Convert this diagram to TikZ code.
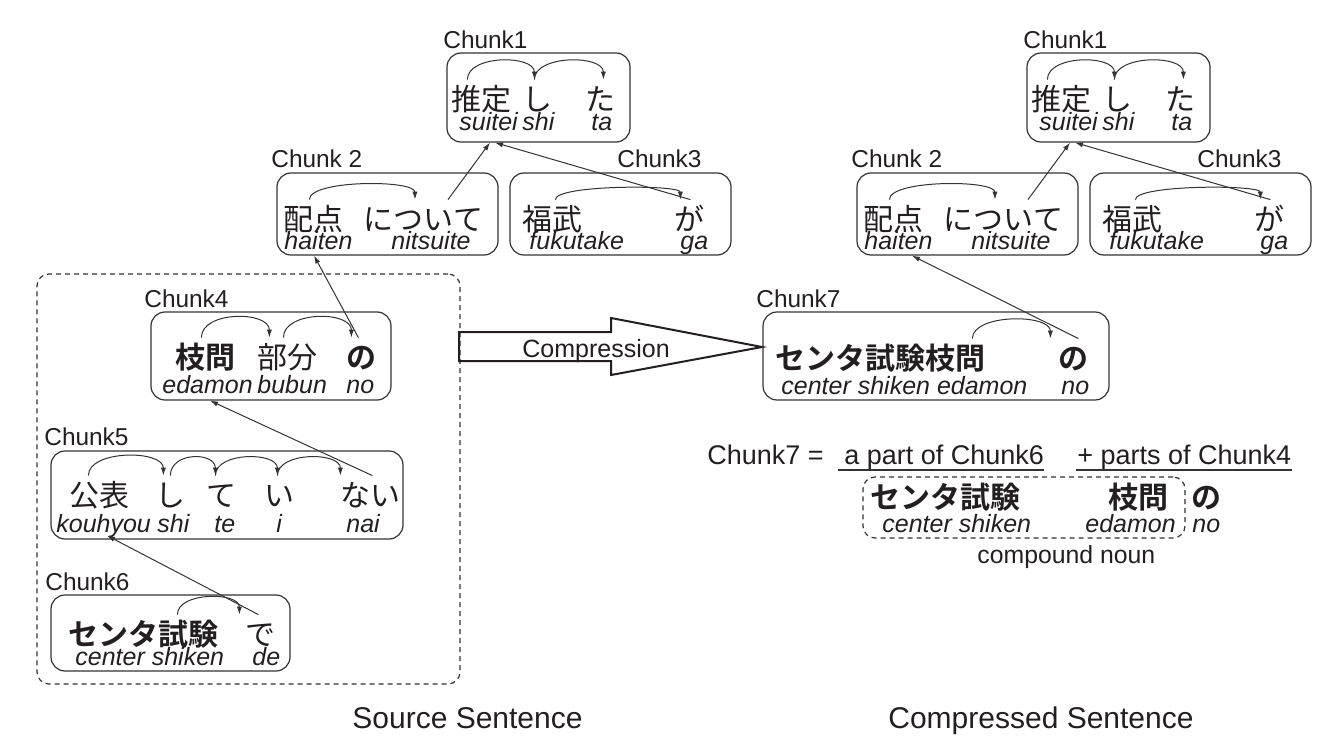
\documentclass[tikz,border=0pt]{standalone}
\usepackage{fontspec}
\newfontfamily\lat{Liberation Sans}
\newfontfamily\jp{Noto Sans CJK JP}[BoldFont={Noto Sans CJK JP Bold}]
\usetikzlibrary{arrows.meta,calc,positioning}
\definecolor{ink}{HTML}{231F20}
\definecolor{edge}{HTML}{333333}

\tikzset{
  lbl/.style={font=\lat\fontsize{12.2}{14}\selectfont, inner sep=0, anchor=base west, text=ink},
  eq/.style={font=\lat\fontsize{13.5}{16}\selectfont, inner sep=0, anchor=base west, text=ink},
  ttl/.style={font=\lat\fontsize{15}{18}\selectfont, inner sep=0, anchor=base west, text=ink},
  jw/.style={font=\jp\fontsize{15}{18}\selectfont, inner sep=0, anchor=base west, text height=15pt, text depth=0pt, text=ink},
  jb/.style={jw, font=\jp\bfseries\fontsize{15}{18}\selectfont},
  rom/.style={font=\lat\itshape\fontsize{12.5}{14}\selectfont, inner sep=0, anchor=base west, text=ink},
  chunk/.style={draw=edge, line width=0.6pt, rounded corners=7pt, inner sep=0},
  group/.style={draw=edge, line width=0.6pt, dash pattern=on 2.5pt off 2pt, rounded corners=6pt, inner sep=0},
  dep/.style={draw=edge, line width=0.5pt, -{Latex[length=4pt,width=2.6pt]}},
  uline/.style={draw=edge, line width=0.6pt},
}

\begin{document}
\begin{tikzpicture}[x=0.5pt, y=-0.5pt]
\useasboundingbox (0,0) rectangle (1330,755);

% source sentence
\node[group, minimum width=211.5pt, minimum height=205pt] (src) at (248.5,479) {};

\node[chunk, minimum width=91.5pt, minimum height=44.5pt] (ch1) at (538.5,97.5) {};
\node[chunk, minimum width=110.5pt, minimum height=41pt] (ch2) at (387.5,214) {};
\node[chunk, minimum width=110.5pt, minimum height=41pt] (ch3) at (620.5,214) {};
\node[chunk, minimum width=120pt, minimum height=44pt] (ch4) at (271,356) {};
\node[chunk, minimum width=176pt, minimum height=44pt] (ch5) at (227,495) {};
\node[chunk, minimum width=119.5pt, minimum height=38pt] (ch6) at (170.5,633) {};

\node[lbl] (l1) at (443,48) {Chunk1};
\node[lbl] (l2) at (271,167) {Chunk 2};
\node[lbl] (l3) at (617,167) {Chunk3};
\node[lbl] (l4) at (144,307) {Chunk4};
\node[lbl] (l5) at (44,445) {Chunk5};
\node[lbl] (l6) at (45,590) {Chunk6};

\node[jw] (jSuitei) at (451.5,110) {推定};
\node[jw] (jShi) at (522,110) {し};
\node[jw] (jTa) at (585.5,110) {た};
\node[rom] (mSuitei) at (459,130) {suitei};
\node[rom] (mShi) at (522,130) {shi};
\node[rom] (mTa) at (591,130) {ta};

\node[jw] (jHaiten) at (283.5,230) {配点};
\node[jw] (jNitsuite) at (363.5,230) {について};
\node[rom] (mHaiten) at (284,249) {haiten};
\node[rom] (mNitsuite) at (391,249) {nitsuite};

\node[jw] (jFukutake) at (522.5,230) {福武};
\node[jw] (jGa) at (674,230) {が};
\node[rom] (mFukutake) at (529,249) {fukutake};
\node[rom] (mGa) at (680,249) {ga};

\node[jb] (jEdamon) at (175,368) {枝問};
\node[jw] (jBubun) at (257.5,368) {部分};
\node[jb] (jNo) at (346,368) {の};
\node[rom] (mEdamon) at (162,393) {edamon};
\node[rom] (mBubun) at (257,393) {bubun};
\node[rom] (mNo) at (346,393) {no};

\node[jw] (jKouhyou) at (69,506) {公表};
\node[jw] (jShiB) at (155,506) {し};
\node[jw] (jTe) at (206,506) {て};
\node[jw] (jI) at (264,506) {い};
\node[jw] (jNai) at (340,506) {ない};
\node[rom] (mKouhyou) at (56,532) {kouhyou};
\node[rom] (mShiB) at (157,532) {shi};
\node[rom] (mTe) at (214,532) {te};
\node[rom] (mI) at (276,532) {i};
\node[rom] (mNai) at (346,532) {nai};

\node[jb] (jCenter) at (68.5,645) {センタ試験};
\node[jw] (jDe) at (245.5,645) {で};
\node[rom] (mCenter) at (75,665) {center shiken};
\node[rom] (mDe) at (252,665) {de};

\draw[dep] ([xshift=-7.25pt]jSuitei.north) .. controls +(0,-25) and +(0,-25) .. ([xshift=-1.5pt]jShi.north);
\draw[dep] ([xshift=-1.5pt]jShi.north) .. controls +(0,-25) and +(0,-25) .. ([xshift=1.25pt]jTa.north);
\draw[dep] ([xshift=-2.25pt]jHaiten.north) .. controls +(0,-20) and +(0,-20) .. ([xshift=-4.25pt]jNitsuite.north);
\draw[dep] ([xshift=1.25pt]jFukutake.north) .. controls +(0,-15) and +(0,-15) .. ([xshift=-4.5pt]jGa.north);
\draw[dep] ([xshift=-2pt]jEdamon.north) .. controls +(0,-27) and +(0,-27) .. ([xshift=-9.25pt]jBubun.north);
\draw[dep] ([xshift=-2.25pt]jBubun.north) .. controls +(0,-27) and +(0,-27) .. ([xshift=-5pt]jNo.north);
\draw[dep] ([xshift=-5.5pt]jKouhyou.north) .. controls +(0,-26) and +(0,-26) .. ([xshift=-3.5pt]jShiB.north);
\draw[dep] (jShiB.north) .. controls +(0,-24) and +(0,-24) .. ([xshift=-3pt]jTe.north);
\draw[dep] ([xshift=-3pt]jTe.north) .. controls +(0,-24) and +(0,-24) .. ([xshift=-1pt]jI.north);
\draw[dep] ([xshift=-1pt]jI.north) .. controls +(0,-24) and +(0,-24) .. ([xshift=-15pt]jNai.north);
\draw[dep] ([xshift=16.75pt]jCenter.north) .. controls +(0,-23) and +(0,-23) .. ([xshift=-10.75pt]jDe.north);

\draw[dep] ([xshift=12.25pt]jNitsuite.north) -- ([xshift=-24.25pt]ch1.south);
\draw[dep] ([xshift=0.5pt]jGa.north) -- ([xshift=-21.75pt]ch1.south);
\draw[dep] ([xshift=-1.5pt]jNo.north) -- ([xshift=-36.75pt]ch2.south);
\draw[dep] ([xshift=1pt]jNai.north) -- ([xshift=-30.5pt]ch4.south);
\draw[dep] ([xshift=-1.25pt]jDe.north) -- ([xshift=-60pt, yshift=2pt]ch5.south);

% compression arrow
\draw[draw=ink, line width=1pt] (459,332) -- (611,332) -- (611,318) -- (762,347)
  -- (611,375) -- (611,361) -- (459,361) -- cycle;
\node[eq, font=\lat\fontsize{12.5}{14}\selectfont] (cmpLbl) at (522,357) {Compression};

% compressed sentence
\node[chunk, minimum width=91.5pt, minimum height=44.5pt] (ch1R) at (1118.5,97.5) {};
\node[chunk, minimum width=110.5pt, minimum height=41pt] (ch2R) at (967.5,214) {};
\node[chunk, minimum width=110.5pt, minimum height=41pt] (ch3R) at (1200.5,214) {};
\node[chunk, minimum width=173pt, minimum height=44pt] (ch7) at (936,356) {};

\node[lbl] (l1R) at (1023,48) {Chunk1};
\node[lbl] (l2R) at (851,167) {Chunk 2};
\node[lbl] (l3R) at (1197,167) {Chunk3};
\node[lbl] (l7) at (756,307) {Chunk7};

\node[jw] (jSuiteiR) at (1031.5,110) {推定};
\node[jw] (jShiR) at (1102,110) {し};
\node[jw] (jTaR) at (1165.5,110) {た};
\node[rom] (mSuiteiR) at (1039,130) {suitei};
\node[rom] (mShiR) at (1102,130) {shi};
\node[rom] (mTaR) at (1171,130) {ta};

\node[jw] (jHaitenR) at (863.5,230) {配点};
\node[jw] (jNitsuiteR) at (943.5,230) {について};
\node[rom] (mHaitenR) at (864,249) {haiten};
\node[rom] (mNitsuiteR) at (971,249) {nitsuite};

\node[jw] (jFukutakeR) at (1102.5,230) {福武};
\node[jw] (jGaR) at (1254,230) {が};
\node[rom] (mFukutakeR) at (1109,249) {fukutake};
\node[rom] (mGaR) at (1260,249) {ga};

\node[jb] (jCenterB) at (775,369) {センタ試験枝問};
\node[jb] (jNoB) at (1058.5,369) {の};
\node[rom] (mCenterB) at (781,394) {center shiken edamon};
\node[rom] (mNoB) at (1061,394) {no};

\draw[dep] ([xshift=-7.25pt]jSuiteiR.north) .. controls +(0,-25) and +(0,-25) .. ([xshift=-1.5pt]jShiR.north);
\draw[dep] ([xshift=-1.5pt]jShiR.north) .. controls +(0,-25) and +(0,-25) .. ([xshift=1.25pt]jTaR.north);
\draw[dep] ([xshift=-2.25pt]jHaitenR.north) .. controls +(0,-20) and +(0,-20) .. ([xshift=-4.25pt]jNitsuiteR.north);
\draw[dep] ([xshift=1.25pt]jFukutakeR.north) .. controls +(0,-15) and +(0,-15) .. ([xshift=-4.5pt]jGaR.north);
\draw[dep] ([xshift=46pt]jCenterB.north) .. controls +(0,-25) and +(0,-25) .. ([xshift=-11.75pt]jNoB.north);

\draw[dep] ([xshift=12.25pt]jNitsuiteR.north) -- ([xshift=-24.25pt]ch1R.south);
\draw[dep] ([xshift=0.5pt]jGaR.north) -- ([xshift=-21.75pt]ch1R.south);
\draw[dep] ([xshift=2.25pt]jNoB.north) -- ([xshift=-27.75pt]ch2R.south);

% Chunk7 = ...
\node[eq] (eqL) at (707,464) {Chunk7 =};
\node[eq] (eqA) at (844,464) {a part of Chunk6};
\node[eq] (eqB) at (1077,464) {+ parts of Chunk4};
\draw[uline] ([shift={(-6,6)}]eqA.base west) -- ([shift={(0,6)}]eqA.base east);
\draw[uline] ([shift={(-1,6)}]eqB.base west) -- ([shift={(0,6)}]eqB.base east);

\node[group, minimum width=161pt, minimum height=30.5pt] (cmpd) at (1024,507.5) {};
\node[jb] (jCenterC) at (870.5,508) {センタ試験};
\node[jb] (jEdamonC) at (1108.5,508) {枝問};
\node[jb] (jNoC) at (1191,508) {の};
\node[rom] (mCenterC) at (882,532) {center shiken};
\node[rom] (mEdamonC) at (1085,532) {edamon};
\node[rom] (mNoC) at (1192,532) {no};
\node[lbl, font=\lat\fontsize{12.4}{14}\selectfont] (cnoun) at (977,563) {compound noun};

% titles
\node[ttl] (srcT) at (352,728) {Source Sentence};
\node[ttl] (cmpT) at (888,728) {Compressed Sentence};
\end{tikzpicture}
\end{document}
